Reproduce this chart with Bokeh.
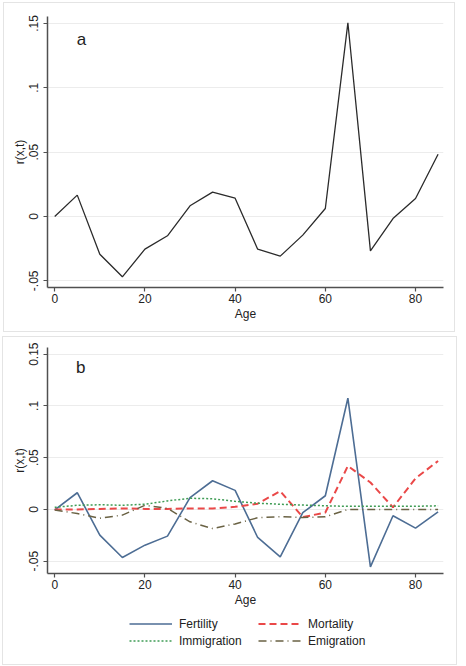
from bokeh.plotting import figure
from bokeh.layouts import column
from bokeh.models import FixedTicker, Range1d, Legend, LegendItem, Label
from bokeh.embed import file_html
from bokeh.resources import INLINE

# Age groups (start of 5-year band)
age = [0, 5, 10, 15, 20, 25, 30, 35, 40, 45, 50, 55, 60, 65, 70, 75, 80, 85]

# Panel a: total rate r(x,t)
total = [0.000, 0.0166, -0.0293, -0.0469, -0.0254, -0.0150, 0.0083, 0.0189, 0.0142,
         -0.0254, -0.0308, -0.0145, 0.0062, 0.1505, -0.0267, -0.0016, 0.0140, 0.0484]

# Panel b: components
fertility = [-0.0005, 0.0161, -0.0248, -0.0465, -0.0345, -0.0258, 0.0113, 0.0277, 0.0184,
             -0.0271, -0.0458, -0.0032, 0.0132, 0.1074, -0.0555, -0.0061, -0.0181, -0.0023]
mortality = [0.0, 0.0, 0.0005, 0.001, 0.0005, 0.0005, 0.001, 0.001, 0.0025,
             0.0055, 0.0177, -0.0075, -0.003, 0.042, 0.026, 0.002, 0.030, 0.0468]
immigration = [0.002, 0.004, 0.0045, 0.004, 0.005, 0.0082, 0.0108, 0.0103, 0.0078,
               0.006, 0.005, 0.0042, 0.0035, 0.003, 0.003, 0.003, 0.003, 0.0035]
emigration = [-0.0005, -0.004, -0.0085, -0.0055, 0.004, 0.001, -0.012, -0.0185, -0.014,
              -0.008, -0.007, -0.0078, -0.0072, 0.0, 0.0, 0.0, 0.0, 0.0]

series_names = ["Fertility", "Mortality", "Immigration", "Emigration"]
components = [fertility, mortality, immigration, emigration]

x_ticks = [0, 20, 40, 60, 80]
y_ticks = [-0.05, 0.0, 0.05, 0.1, 0.15]
y_labels_a = ["-.05", "0", ".05", ".1", ".15"]
y_labels_b = ["-.05", "0", ".05", ".1", "0.15"]

FONT = "Liberation Sans"
AXIS_COLOR = "#505050"
BORDER = "1px solid #e4e4e4"

# line styles of the four components
STYLES = [
    dict(line_color="#4d6d94", line_width=1.6),
    dict(line_color="#ea4848", line_width=2, line_dash="7 4"),
    dict(line_color="#3f9c55", line_width=1.5, line_dash="2 2"),
    dict(line_color="#6a6244", line_width=1.5, line_dash="8 4 1 4"),
]


def style(p, y_labels):
    p.xaxis.ticker = FixedTicker(ticks=x_ticks)
    p.yaxis.ticker = FixedTicker(ticks=y_ticks)
    p.yaxis.major_label_overrides = {t: s for t, s in zip(y_ticks, y_labels)}
    p.yaxis.major_label_orientation = "vertical"
    p.xaxis.axis_label = "Age"
    p.yaxis.axis_label = "r(x,t)"
    for ax in (p.xaxis, p.yaxis):
        ax.axis_line_color = AXIS_COLOR
        ax.axis_line_width = 1.5
        ax.major_tick_line_color = AXIS_COLOR
        ax.major_tick_line_width = 1.2
        ax.major_tick_out = 4
        ax.major_tick_in = 0
        ax.minor_tick_line_color = None
        ax.major_label_text_font = FONT
        ax.major_label_text_font_size = "12px"
        ax.major_label_text_color = "#222222"
        ax.major_label_standoff = 2
        ax.axis_label_text_font = FONT
        ax.axis_label_text_font_size = "12px"
        ax.axis_label_text_font_style = "normal"
        ax.axis_label_text_color = "#222222"
        ax.axis_label_standoff = 1
    p.yaxis.major_label_standoff = 5
    p.yaxis.axis_label_standoff = 0
    p.xgrid.grid_line_color = None
    p.ygrid.ticker = FixedTicker(ticks=y_ticks)
    p.ygrid.grid_line_color = "#ececec"
    p.ygrid.grid_line_width = 1
    p.outline_line_color = None
    p.background_fill_color = "white"
    p.border_fill_color = "white"


# ---- panel a ----
pa = figure(width=452, height=330, output_backend="svg", toolbar_location=None,
            x_range=Range1d(-1.6, 86.2), y_range=Range1d(-0.0552, 0.1554),
            min_border_left=43, min_border_right=13, min_border_top=13, min_border_bottom=46,
            styles={"border": BORDER, "margin-left": "3px", "margin-top": "2px"})
style(pa, y_labels_a)
pa.line(age, total, line_color="#2b2b2b", line_width=1.3)
pa.add_layout(Label(x=4.9, y=0.1375, text="a", text_font=FONT, text_font_size="17px",
                    text_color="#1e1e1e", text_align="left", text_baseline="alphabetic"))

# ---- panel b ----
pb = figure(width=453, height=275, output_backend="svg", toolbar_location=None,
            x_range=Range1d(-1.6, 86.2), y_range=Range1d(-0.0619, 0.1564),
            min_border_left=44, min_border_right=13, min_border_top=10, min_border_bottom=39)
style(pb, y_labels_b)
for ys, st in zip(components, STYLES):
    pb.line(age, ys, **st)
pb.add_layout(Label(x=4.7, y=0.1375, text="b", text_font=FONT, text_font_size="17px",
                    text_color="#1e1e1e", text_align="left", text_baseline="alphabetic"))

# ---- legend strip under panel b ----
# The key renderers carry the same series, but the strip's ranges keep them out of view:
# only the legend samples are visible here.
pl = figure(width=453, height=52, output_backend="svg", toolbar_location=None,
            x_range=Range1d(500, 501), y_range=Range1d(500, 501),
            min_border=0, min_border_left=0, min_border_right=0,
            min_border_top=0, min_border_bottom=0)
pl.axis.visible = False
pl.grid.grid_line_color = None
pl.outline_line_color = None
pl.border_fill_color = "white"
keys = [pl.line(age, ys, **st) for ys, st in zip(components, STYLES)]

legend = Legend(
    items=[LegendItem(label=n, renderers=[r]) for n, r in zip(series_names, keys)],
    orientation="horizontal", ncols=2,
    location=(82, 15),
    glyph_width=43, glyph_height=17, label_height=17, label_width=79,
    label_standoff=7, spacing=0, padding=0, margin=0,
    label_text_font=FONT, label_text_font_size="12px", label_text_color="#222222",
    border_line_color=None, background_fill_alpha=0,
)
pl.add_layout(legend, "center")

panel_b = column(pb, pl, spacing=0,
                 styles={"border": BORDER, "margin-left": "2px", "margin-top": "2px"})

layout = column(pa, panel_b, spacing=2)
open("out.html", "w").write(file_html(layout, INLINE))
